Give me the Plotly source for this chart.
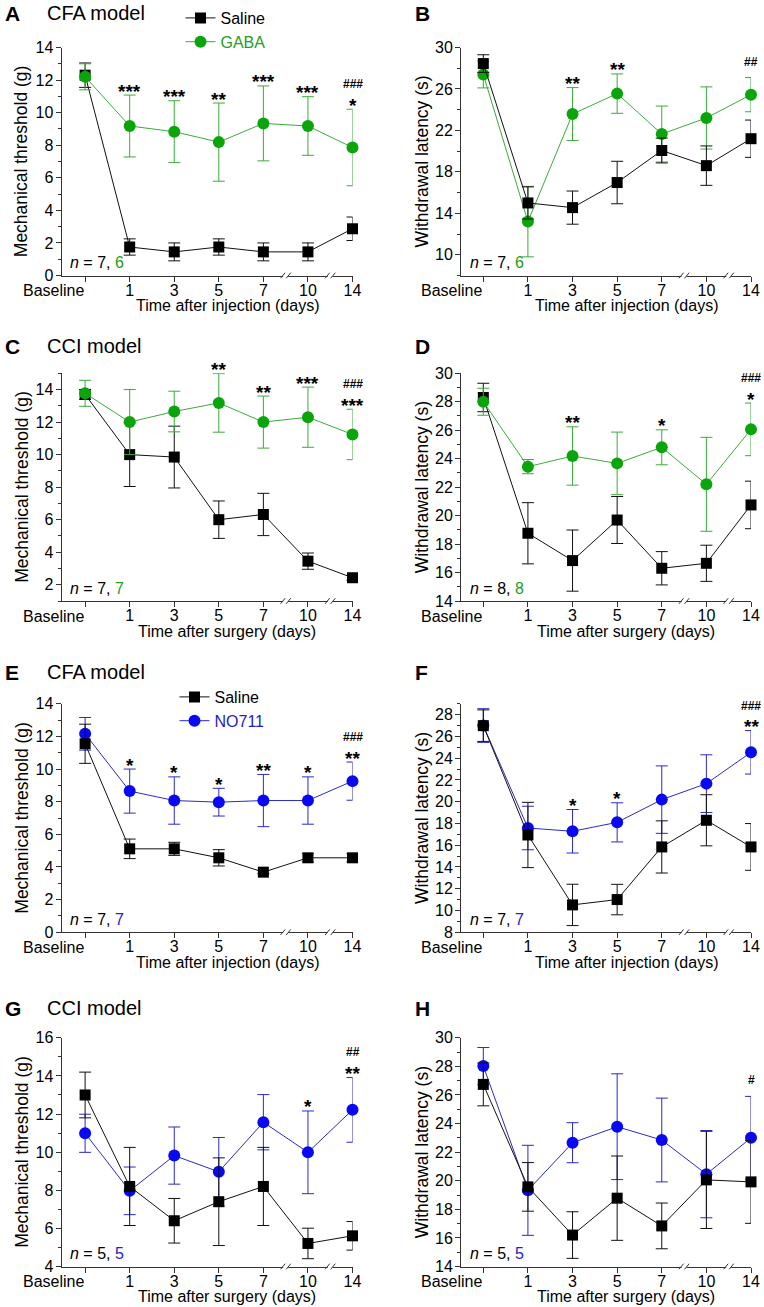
import plotly.graph_objects as go

W, H = 764, 1307

# ---------------- data ----------------
categories = ["Baseline", "1", "3", "5", "7", "10", "14"]

A_saline = [12.3, 1.75, 1.45, 1.75, 1.45, 1.45, 2.87]
A_saline_err = [0.75, 0.5, 0.55, 0.5, 0.55, 0.55, 0.72]
A_gaba = [12.2, 9.18, 8.83, 8.19, 9.34, 9.18, 7.86]
A_gaba_err = [0.8, 1.9, 1.9, 2.4, 2.3, 1.8, 2.35]

B_saline = [28.45, 15.0, 14.55, 16.97, 20.06, 18.6, 21.2]
B_saline_err = [0.85, 1.55, 1.6, 2.05, 1.2, 1.9, 1.8]
B_gaba = [27.4, 13.2, 23.58, 25.55, 21.65, 23.2, 25.45]
B_gaba_err = [1.3, 3.4, 2.55, 1.9, 2.7, 3.0, 1.65]

C_saline = [13.7, 10.0, 9.85, 6.0, 6.32, 3.45, 2.43]
C_saline_err = [0.3, 1.96, 1.9, 1.15, 1.3, 0.5, 0.15]
C_gaba = [13.77, 12.0, 12.65, 13.18, 12.0, 12.3, 11.24]
C_gaba_err = [0.8, 2.0, 1.25, 1.8, 1.6, 1.85, 1.55]

D_saline = [28.3, 18.76, 16.84, 19.69, 16.3, 16.65, 20.75]
D_saline_err = [1.0, 2.15, 2.15, 1.65, 1.17, 1.27, 1.67]
D_gaba = [28.0, 23.44, 24.19, 23.67, 24.8, 22.2, 26.06]
D_gaba_err = [0.95, 0.5, 2.05, 2.2, 1.23, 3.3, 1.85]

E_saline = [11.55, 5.11, 5.11, 4.56, 3.68, 4.56, 4.56]
E_saline_err = [1.2, 0.6, 0.4, 0.5, 0.1, 0.25, 0.25]
E_no711 = [12.16, 8.65, 8.07, 7.97, 8.07, 8.07, 9.26]
E_no711_err = [1.0, 1.35, 1.45, 0.85, 1.6, 1.45, 1.17]

F_saline = [26.99, 16.94, 10.51, 11.0, 15.84, 18.29, 15.84]
F_saline_err = [1.45, 3.0, 1.9, 1.4, 2.4, 2.35, 2.15]
F_no711 = [27.0, 17.58, 17.28, 18.1, 20.19, 21.66, 24.54]
F_no711_err = [1.55, 2.0, 2.0, 1.8, 3.1, 2.65, 2.0]

G_saline = [13.0, 8.2, 6.4, 7.4, 8.2, 5.21, 5.61]
G_saline_err = [1.2, 2.05, 1.17, 2.3, 2.05, 0.8, 0.75]
G_no711 = [10.99, 7.97, 9.82, 8.97, 11.57, 9.99, 12.22]
G_no711_err = [1.0, 1.25, 1.5, 1.8, 1.45, 2.17, 1.7]

H_saline = [26.74, 19.57, 16.2, 18.78, 16.84, 20.06, 19.92]
H_saline_err = [1.5, 1.7, 1.63, 2.95, 1.6, 3.4, 2.9]
H_no711 = [28.02, 19.33, 22.66, 23.78, 22.85, 20.46, 23.0]
H_no711_err = [1.3, 3.15, 1.4, 3.7, 2.93, 3.05, 2.9]

# significance labels: {category index: label}
A_stars = {1: "***", 2: "***", 3: "**", 4: "***", 5: "***", 6: "*"}
A_hash = {6: "###"}
B_stars = {2: "**", 3: "**"}
B_hash = {6: "##"}
C_stars = {3: "**", 4: "**", 5: "***", 6: "***"}
C_hash = {6: "###"}
D_stars = {2: "**", 4: "*", 6: "*"}
D_hash = {6: "###"}
E_stars = {1: "*", 2: "*", 3: "*", 4: "**", 5: "*", 6: "**"}
E_hash = {6: "###"}
F_stars = {2: "*", 3: "*", 6: "**"}
F_hash = {6: "###"}
G_stars = {5: "*", 6: "**"}
G_hash = {6: "##"}
H_stars = {}
H_hash = {6: "#"}

# ---------------- style ----------------
FONT = "Liberation Sans, Arial, sans-serif"
BLACK = "#000000"
GREEN_M = "#0aa50a"
GREEN_L = "#3aab3a"
GREEN_T = "#22a022"
BLUE_M = "#0808f2"
BLUE_L = "#2a2ac8"
BLUE_T = "#2222cc"
AXC = "#333333"

def px(xp):
    return xp / W

def py(yp):
    return 1 - yp / H

# "Baseline" label sits to the left of its tick in the original figure: drawn as a right-aligned label
tick_labels = [""] + categories[1:]

COLS = [dict(x0=61.5, x1=352.5, rng=[-0.53, 6.0], ytitle_x=21.7, letter_x=3, n_x=68, xt_x=227),
        dict(x0=461.0, x1=751.0, rng=[-0.5, 6.0], ytitle_x=422, letter_x=413, n_x=468, xt_x=626)]
ROWS = [dict(top=47.5, bot=275.5, letter_y=13),
        dict(top=373.3, bot=601.0, letter_y=346),
        dict(top=703.8, bot=932.2, letter_y=672),
        dict(top=1037.8, bot=1266.5, letter_y=1008)]

panels = [
    dict(L="A", r=0, c=0, title="CFA model", sal=A_saline, se=A_saline_err, tr=A_gaba, te=A_gaba_err,
         tname="GABA", mc=GREEN_M, lc=GREEN_L, tc=GREEN_T, ylab="Mechanical threshold (g)",
         xlab="Time after injection (days)", yr=[0, 14], t0=0, dt=2, mdt=1, n=("7", "6"),
         stars=A_stars, hashes=A_hash, treat_top=True, legend="legend"),
    dict(L="B", r=0, c=1, title=None, sal=B_saline, se=B_saline_err, tr=B_gaba, te=B_gaba_err,
         tname="GABA", mc=GREEN_M, lc=GREEN_L, tc=GREEN_T, ylab="Withdrawal latency (s)",
         xlab="Time after injection (days)", yr=[8, 30], t0=10, dt=4, mdt=2, n=("7", "6"),
         stars=B_stars, hashes=B_hash, treat_top=False, legend=None),
    dict(L="C", r=1, c=0, title="CCI model", sal=C_saline, se=C_saline_err, tr=C_gaba, te=C_gaba_err,
         tname="GABA", mc=GREEN_M, lc=GREEN_L, tc=GREEN_T, ylab="Mechanical threshold (g)",
         xlab="Time after surgery (days)", yr=[1, 15], t0=2, dt=2, mdt=1, n=("7", "7"),
         stars=C_stars, hashes=C_hash, treat_top=True, legend=None),
    dict(L="D", r=1, c=1, title=None, sal=D_saline, se=D_saline_err, tr=D_gaba, te=D_gaba_err,
         tname="GABA", mc=GREEN_M, lc=GREEN_L, tc=GREEN_T, ylab="Withdrawal latency (s)",
         xlab="Time after surgery (days)", yr=[14, 30], t0=14, dt=2, mdt=1, n=("8", "8"),
         stars=D_stars, hashes=D_hash, treat_top=True, legend=None),
    dict(L="E", r=2, c=0, title="CFA model", sal=E_saline, se=E_saline_err, tr=E_no711, te=E_no711_err,
         tname="NO711", mc=BLUE_M, lc=BLUE_L, tc=BLUE_T, ylab="Mechanical threshold (g)",
         xlab="Time after injection (days)", yr=[0, 14], t0=0, dt=2, mdt=1, n=("7", "7"),
         stars=E_stars, hashes=E_hash, treat_top=False, legend="legend2"),
    dict(L="F", r=2, c=1, title=None, sal=F_saline, se=F_saline_err, tr=F_no711, te=F_no711_err,
         tname="NO711", mc=BLUE_M, lc=BLUE_L, tc=BLUE_T, ylab="Withdrawal latency (s)",
         xlab="Time after injection (days)", yr=[8, 29], t0=8, dt=2, mdt=1, n=("7", "7"),
         stars=F_stars, hashes=F_hash, treat_top=False, legend=None),
    dict(L="G", r=3, c=0, title="CCI model", sal=G_saline, se=G_saline_err, tr=G_no711, te=G_no711_err,
         tname="NO711", mc=BLUE_M, lc=BLUE_L, tc=BLUE_T, ylab="Mechanical threshold (g)",
         xlab="Time after surgery (days)", yr=[4, 16], t0=4, dt=2, mdt=1, n=("5", "5"),
         stars=G_stars, hashes=G_hash, treat_top=False, legend=None),
    dict(L="H", r=3, c=1, title=None, sal=H_saline, se=H_saline_err, tr=H_no711, te=H_no711_err,
         tname="NO711", mc=BLUE_M, lc=BLUE_L, tc=BLUE_T, ylab="Withdrawal latency (s)",
         xlab="Time after surgery (days)", yr=[14, 30], t0=14, dt=2, mdt=1, n=("5", "5"),
         stars=H_stars, hashes=H_hash, treat_top=False, legend=None),
]

fig = go.Figure()
annotations = []
shapes = []
xpos = list(range(len(categories)))

for i, p in enumerate(panels):
    k = i + 1
    sfx = "" if k == 1 else str(k)
    col, row = COLS[p["c"]], ROWS[p["r"]]
    xa, ya = "x" + sfx, "y" + sfx

    sal_tr = go.Scatter(
        x=xpos, y=p["sal"], mode="lines+markers", name="Saline",
        xaxis=xa, yaxis=ya, cliponaxis=False,
        line=dict(color="#111111", width=1),
        marker=dict(symbol="square", size=11, color=BLACK),
        error_y=dict(type="data", array=p["se"], color="#111111", thickness=1, width=6),
        showlegend=p["legend"] is not None, legendrank=1,
    )
    trt_tr = go.Scatter(
        x=xpos, y=p["tr"], mode="lines+markers",
        name="<span style='color:%s'>%s</span>" % (p["tc"], p["tname"]),
        xaxis=xa, yaxis=ya, cliponaxis=False,
        line=dict(color=p["lc"], width=1),
        marker=dict(symbol="circle", size=12, color=p["mc"]),
        error_y=dict(type="data", array=p["te"], color=p["lc"], thickness=1, width=6),
        showlegend=p["legend"] is not None, legendrank=2,
    )
    if p["legend"]:
        sal_tr.legend = p["legend"]
        trt_tr.legend = p["legend"]
    if p["treat_top"]:
        fig.add_trace(sal_tr); fig.add_trace(trt_tr)
    else:
        fig.add_trace(trt_tr); fig.add_trace(sal_tr)

    xdom = [px(col["x0"]), px(col["x1"])]
    ydom = [py(row["bot"]), py(row["top"])]
    axis_common = dict(showline=True, linecolor=AXC, linewidth=1, ticks="outside",
                       tickcolor=AXC, ticklen=5, tickwidth=1, showgrid=False, zeroline=False,
                       automargin=False,
                       tickfont=dict(family=FONT, size=16, color="#000"))
    fig.layout["xaxis" + sfx] = dict(domain=xdom, range=col["rng"], anchor=ya,
                                      tickmode="array", tickvals=xpos, ticktext=tick_labels,
                                      tickangle=0, ticklabelstandoff=-5, **axis_common)
    fig.layout["yaxis" + sfx] = dict(domain=ydom, range=p["yr"], anchor=xa,
                                      tick0=p["t0"], dtick=p["dt"], ticklabelstandoff=-1,
                                      minor=dict(dtick=p["mdt"], tick0=p["t0"], ticks="outside",
                                                 ticklen=3, tickcolor=AXC, tickwidth=1),
                                      **axis_common)

    # "Baseline" category label, right-aligned at its tick
    annotations.append(dict(x=xpos[0], y=0, xref=xa, yref=ya + " domain", text=categories[0],
                            showarrow=False, xanchor="right", yanchor="middle", xshift=1, yshift=-15,
                            font=dict(family=FONT, size=16, color=BLACK)))

    # axis break marks
    def cat2paper(cx):
        r0, r1 = col["rng"]
        return px(col["x0"] + (cx - r0) / (r1 - r0) * (col["x1"] - col["x0"]))
    for bx in (4.5, 5.5):
        xp = cat2paper(bx)
        yp = py(row["bot"])
        shapes.append(dict(type="rect", xref="paper", yref="paper", xsizemode="pixel", ysizemode="pixel",
                           xanchor=xp, yanchor=yp, x0=-2.5, x1=2.5, y0=-2, y1=2,
                           fillcolor="white", line=dict(width=0), layer="above"))
        for off in (-2.8, 2.8):
            shapes.append(dict(type="line", xref="paper", yref="paper", xsizemode="pixel", ysizemode="pixel",
                               xanchor=xp, yanchor=yp, x0=off - 2.3, x1=off + 2.3, y0=-2.8, y1=2.8,
                               line=dict(color=AXC, width=1), layer="above"))

    # significance markers
    for idx in range(len(categories)):
        has_star = idx in p["stars"]
        has_hash = idx in p["hashes"]
        if not (has_star or has_hash):
            continue
        top = max(p["tr"][idx] + p["te"][idx], p["sal"][idx] + p["se"][idx])
        if has_star:
            annotations.append(dict(x=idx, y=top, xref=xa, yref=ya, text="<b>%s</b>" % p["stars"][idx],
                                    showarrow=False, yanchor="middle", yshift=4,
                                    font=dict(family=FONT, size=19, color=BLACK)))
        if has_hash:
            annotations.append(dict(x=idx, y=top, xref=xa, yref=ya, text="<b>%s</b>" % p["hashes"][idx],
                                    showarrow=False, yanchor="middle", yshift=25 if has_star else 16,
                                    font=dict(family=FONT, size=12, color=BLACK)))

    # texts
    annotations.append(dict(x=px(col["letter_x"]), y=py(row["letter_y"]), xref="paper", yref="paper",
                            text="<b>%s</b>" % p["L"], showarrow=False, xanchor="left", yanchor="middle",
                            font=dict(family=FONT, size=21, color=BLACK)))
    if p["title"]:
        annotations.append(dict(x=px(45), y=py(row["letter_y"]), xref="paper", yref="paper",
                                text=p["title"], showarrow=False, xanchor="left", yanchor="middle",
                                font=dict(family=FONT, size=20, color=BLACK)))
    annotations.append(dict(x=px(col["ytitle_x"]), y=py((row["top"] + row["bot"]) / 2), xref="paper",
                            yref="paper", text=p["ylab"], showarrow=False, textangle=-90,
                            xanchor="center", yanchor="middle",
                            font=dict(family=FONT, size=17.5, color=BLACK)))
    annotations.append(dict(x=px(col["xt_x"]), y=py(row["bot"] + 30), xref="paper", yref="paper",
                            text=p["xlab"], showarrow=False, xanchor="center", yanchor="middle",
                            font=dict(family=FONT, size=16, color=BLACK)))
    annotations.append(dict(x=px(col["n_x"]), y=py(row["bot"] - 13), xref="paper", yref="paper",
                            text="<i>n</i> = %s, <span style='color:%s'>%s</span>" % (p["n"][0], p["tc"], p["n"][1]),
                            showarrow=False, xanchor="left", yanchor="middle",
                            font=dict(family=FONT, size=16, color=BLACK)))

legend_common = dict(font=dict(family=FONT, size=16, color=BLACK), bgcolor="rgba(0,0,0,0)",
                     borderwidth=0, tracegroupgap=0, xanchor="left", yanchor="top",
                     itemclick=False, itemdoubleclick=False)

fig.update_layout(
    width=W, height=H,
    margin=dict(l=0, r=0, t=0, b=0, autoexpand=False),
    paper_bgcolor="white", plot_bgcolor="white",
    font=dict(family=FONT, size=16, color=BLACK),
    annotations=annotations,
    shapes=shapes,
    legend=dict(x=px(180.5), y=py(1), **legend_common),
    legend2=dict(x=px(174.5), y=py(680), **legend_common),
)

fig.write_html("out.html", config={"displayModeBar": False},
               post_script="document.body.style.margin='0px';document.body.style.overflow='hidden';")
